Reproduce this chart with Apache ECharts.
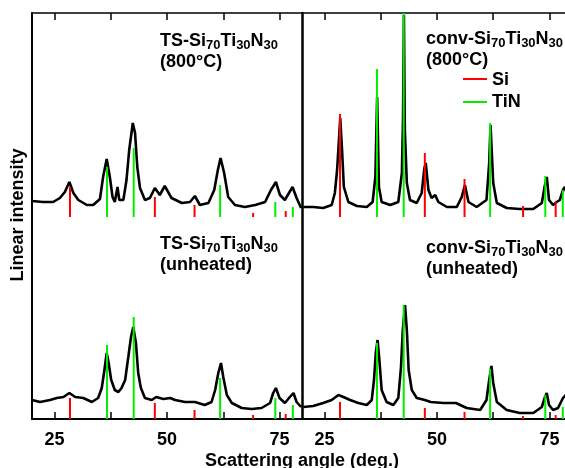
<!DOCTYPE html>
<html>
<head>
<meta charset="utf-8">
<script src="https://cdn.jsdelivr.net/npm/echarts@6/dist/echarts.min.js"></script>
<style>
    html, body { margin: 0; padding: 0; background: #fff; }
    #xrd { width: 565px; height: 468px; }
</style>
</head>
<body>
<div id="xrd"></div>
<script>
    // 衍射曲线 [角度, 强度]
    const tsHeated = [[20.0,218],[22.5,217],[24.7,217],[26.2,221],[27.3,227],[28.3,237],[29.2,226],[30.3,219],[32.2,214],[33.6,214],[35.1,220],[35.8,242],[36.6,260],[37.3,242],[37.9,222],[38.4,217],[39.0,232],[39.4,219],[40.3,219],[41.0,239],[41.6,269],[42.4,296],[42.9,286],[43.4,252],[44.0,231],[45.1,219],[46.2,221],[47.3,231],[48.4,224],[49.5,233],[51.0,221],[53.3,216],[55.1,217],[56.2,223],[57.3,214],[59.2,216],[60.5,229],[61.3,249],[61.9,261],[62.7,246],[63.6,222],[65.1,214],[67.3,212],[69.6,214],[71.8,217],[73.1,229],[74.2,237],[75.1,224],[76.2,219],[77.1,226],[77.9,232],[78.8,221],[79.8,211]];
    const convHeated = [[20.3,212],[22.5,212],[24.7,211],[26.6,214],[27.3,226],[27.8,249],[28.3,286],[28.5,301],[28.9,269],[29.3,232],[30.3,217],[32.2,213],[34.4,212],[35.7,217],[36.3,242],[36.7,322],[37.1,232],[37.7,217],[39.6,214],[41.4,217],[42.2,246],[42.45,300],[42.65,404],[42.85,290],[43.3,236],[44.0,219],[45.5,216],[46.6,226],[47.2,251],[47.5,256],[48.1,229],[48.8,221],[49.6,224],[50.3,217],[52.2,212],[54.4,212],[55.5,222],[56.2,234],[57.0,217],[58.8,212],[61.0,219],[61.6,256],[61.9,294],[62.5,236],[63.3,216],[65.5,211],[68.4,210],[71.4,210],[73.3,216],[73.9,232],[74.4,242],[74.9,219],[75.8,214],[76.6,217],[77.3,219],[78.0,229],[78.4,232],[79.2,220],[80.0,214]];
    const tsUnheated = [[20.0,19],[21.8,17],[24.0,19],[25.5,21],[27.0,22],[28.3,26],[29.6,22],[31.4,21],[33.3,17],[34.7,21],[35.5,31],[36.0,46],[36.6,66],[37.0,57],[37.6,39],[38.4,29],[39.2,27],[39.9,31],[40.7,39],[41.4,62],[42.0,82],[42.5,92],[43.1,76],[43.6,46],[44.2,31],[45.1,21],[46.6,19],[47.6,22],[49.2,20],[50.7,21],[51.8,19],[54.0,17],[56.2,17],[58.4,14],[59.9,17],[60.7,29],[61.4,46],[62.0,56],[62.5,42],[63.3,24],[64.4,16],[66.6,11],[68.8,10],[71.0,11],[72.9,16],[73.6,26],[74.2,31],[75.0,21],[76.2,16],[77.3,22],[78.1,26],[78.8,17],[79.8,12]];
    const convUnheated = [[20.3,12],[22.5,13],[24.7,16],[26.6,19],[28.1,24],[29.2,22],[30.7,19],[32.5,16],[34.4,14],[35.5,19],[36.0,39],[36.4,66],[36.8,79],[37.2,59],[37.7,29],[38.8,17],[40.3,14],[41.4,21],[42.0,52],[42.4,89],[42.9,114],[43.3,89],[43.7,49],[44.4,29],[45.5,21],[47.3,19],[48.6,17],[51.4,16],[54.2,16],[56.6,11],[59.6,9],[61.0,19],[61.6,39],[62.1,53],[62.5,36],[63.3,17],[65.5,9],[68.4,6],[71.4,6],[73.3,12],[74.0,22],[74.4,26],[74.9,14],[75.8,9],[76.9,11],[78.0,21],[78.6,24],[79.3,16],[80.0,12]];

    // 标准峰位
    const siPos = [28.44, 47.30, 56.12, 69.13, 76.38];
    const tinPos = [36.66, 42.60, 61.81, 74.07, 77.96];
    // 标准线高度(各面板)
    const tsHeatedSi = [232, 222, 214, 206, 208];
    const tsHeatedTin = [252, 271, 234, 217, 212];
    const convHeatedSi = [305, 266, 240, 213, 217];
    const convHeatedTin = [350, 406, 296, 243, 229];
    const tsUnheatedSi = [21, 16, 9, 4, 5];
    const tsUnheatedTin = [74, 102, 41, 21, 14];
    const convUnheatedSi = [17, 11, 7, 3, 4];
    const convUnheatedTin = [76, 114, 50, 24, 12];
    const heatedBase = 202;
    const unheatedBase = 0;

    // 刻度
    const tickValues = [25, 37.5, 50, 62.5, 75];
    const labelValues = [25, 50, 75];

    const FF = '"Liberation Sans", Arial, sans-serif';
    const RED = '#ff0000';
    const GREEN = '#00ee00';

    let myChart = echarts.init(document.getElementById('xrd'));

    //x轴
    function xAxisObj(grid, pos, max) {
        let bottom = pos === 'bottom';
        return {
            gridIndex: grid,
            type: 'value',
            min: 20,
            max: max,
            position: pos,
            axisLine: { show: true, onZero: false, lineStyle: { color: '#000', width: bottom ? 2 : 1.5 } },
            axisTick: { show: true, inside: true, length: 7, customValues: tickValues, lineStyle: { color: '#000', width: 1.5 } },
            axisLabel: {
                show: bottom,
                customValues: labelValues,
                fontSize: 18,
                fontWeight: 'bold',
                fontFamily: FF,
                color: '#000',
                margin: 12
            },
            splitLine: { show: false }
        };
    }

    //y轴
    function yAxisObj(grid, w) {
        return {
            gridIndex: grid,
            type: 'value',
            min: 0,
            max: 406,
            axisLine: { show: true, onZero: false, lineStyle: { color: '#000', width: w } },
            axisTick: { show: false },
            axisLabel: { show: false },
            splitLine: { show: false }
        };
    }

    //曲线
    function curve(data, xi, yi) {
        return {
            type: 'line',
            xAxisIndex: xi,
            yAxisIndex: yi,
            data: data,
            symbol: 'none',
            lineStyle: { color: '#000', width: 2.6 },
            z: 2
        };
    }

    //标准线
    function sticks(pos, tops, base, color, xi, yi) {
        let data = pos.map((p, i) => [p, base, tops[i]]);
        return {
            type: 'custom',
            xAxisIndex: xi,
            yAxisIndex: yi,
            data: data,
            z: 3,
            renderItem: function (params, api) {
                let p0 = api.coord([api.value(0), api.value(1)]);
                let p1 = api.coord([api.value(0), api.value(2)]);
                return {
                    type: 'line',
                    shape: { x1: p0[0], y1: p0[1], x2: p1[0], y2: p1[1] },
                    style: { stroke: color, lineWidth: 2 }
                };
            }
        };
    }

    //样品名称
    function sampleLabel(x, y, name, cond) {
        return {
            type: 'text',
            x: x,
            y: y,
            style: {
                text: '{m|' + name + '-Si}{s|70}{m|Ti}{s|30}{m|N}{s|30}\n{m|' + cond + '}',
                rich: {
                    m: { fontSize: 18, fontWeight: 'bold', fontFamily: FF, fill: '#000', lineHeight: 21, verticalAlign: 'middle' },
                    s: { fontSize: 13, fontWeight: 'bold', fontFamily: FF, fill: '#000', lineHeight: 10, verticalAlign: 'bottom' }
                }
            }
        };
    }

    function plainText(x, y, text, align, rot) {
        return {
            type: 'text',
            x: x,
            y: y,
            rotation: rot || 0,
            style: {
                text: text,
                font: 'bold 18px ' + FF,
                fill: '#000',
                textAlign: align,
                textVerticalAlign: 'middle'
            }
        };
    }

    let option = {
        animation: false,
        //右图在画布右缘被截断
        grid: [
            { left: 32, top: 13, width: 270, height: 406 },
            { left: 302, top: 13, width: 263, height: 406 }
        ],
        xAxis: [
            xAxisObj(0, 'bottom', 80),
            xAxisObj(0, 'top', 80),
            xAxisObj(1, 'bottom', 78.45),
            xAxisObj(1, 'top', 78.45)
        ],
        yAxis: [yAxisObj(0, 2), yAxisObj(1, 2.5)],
        series: [
            curve(tsHeated, 0, 0),
            curve(tsUnheated, 0, 0),
            curve(convHeated, 2, 1),
            curve(convUnheated, 2, 1),
            sticks(siPos, tsHeatedSi, heatedBase, RED, 0, 0),
            sticks(tinPos, tsHeatedTin, heatedBase, GREEN, 0, 0),
            sticks(siPos, tsUnheatedSi, unheatedBase, RED, 0, 0),
            sticks(tinPos, tsUnheatedTin, unheatedBase, GREEN, 0, 0),
            sticks(siPos, convHeatedSi, heatedBase, RED, 2, 1),
            sticks(tinPos, convHeatedTin, heatedBase, GREEN, 2, 1),
            sticks(siPos, convUnheatedSi, unheatedBase, RED, 2, 1),
            sticks(tinPos, convUnheatedTin, unheatedBase, GREEN, 2, 1)
        ],
        graphic: [
            sampleLabel(160, 31, 'TS', '(800°C)'),
            sampleLabel(426, 29, 'conv', '(800°C)'),
            sampleLabel(160, 233.5, 'TS', '(unheated)'),
            sampleLabel(426, 237.5, 'conv', '(unheated)'),
            //图例
            { type: 'line', shape: { x1: 463, y1: 79, x2: 487, y2: 79 }, style: { stroke: RED, lineWidth: 2 } },
            { type: 'line', shape: { x1: 463, y1: 102, x2: 487, y2: 102 }, style: { stroke: GREEN, lineWidth: 2 } },
            plainText(492, 80, 'Si', 'left'),
            plainText(492, 102.5, 'TiN', 'left'),
            //轴标题
            plainText(18, 215, 'Linear intensity', 'center', Math.PI / 2),
            plainText(302, 461, 'Scattering angle (deg.)', 'center')
        ]
    };

    myChart.setOption(option);
</script>
</body>
</html>
